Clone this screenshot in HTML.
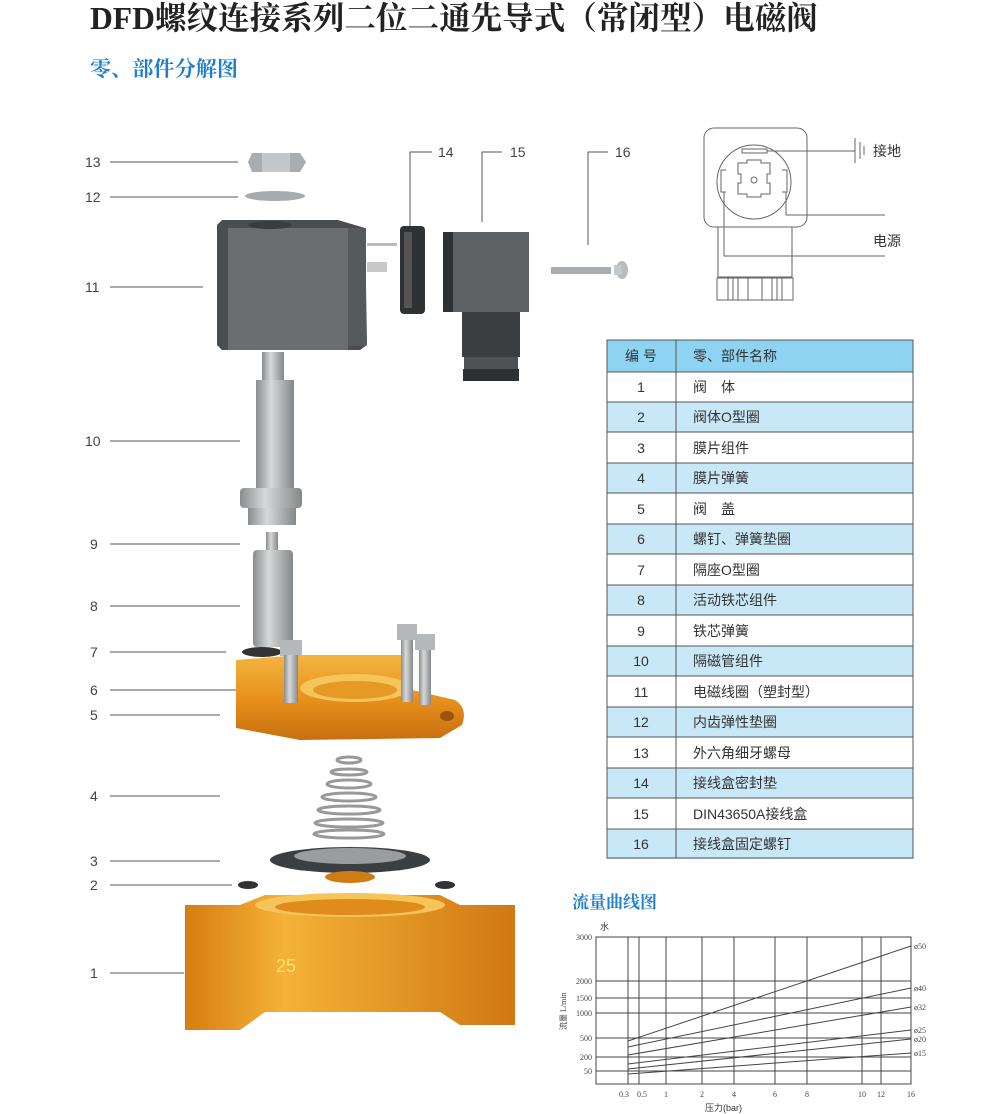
<!DOCTYPE html>
<html><head><meta charset="utf-8"><style>
body{margin:0;background:#fff;}
svg{display:block;}
</style></head><body>
<svg width="1006" height="1114" viewBox="0 0 1006 1114" xmlns="http://www.w3.org/2000/svg" font-family="Liberation Sans, Noto Sans CJK SC, sans-serif">
<defs>
<linearGradient id="gr" x1="0" x2="1"><stop offset="0" stop-color="#8a8d8f"/><stop offset="0.4" stop-color="#d6d8d9"/><stop offset="1" stop-color="#85888a"/></linearGradient>
<linearGradient id="or" x1="0" x2="0" y1="0" y2="1"><stop offset="0" stop-color="#f3b540"/><stop offset="0.5" stop-color="#e8921c"/><stop offset="1" stop-color="#c86f10"/></linearGradient>
<linearGradient id="or2" x1="0" x2="1"><stop offset="0" stop-color="#d67d12"/><stop offset="0.3" stop-color="#f4b238"/><stop offset="1" stop-color="#d07812"/></linearGradient>
</defs>
<text x="90" y="29" font-family="Liberation Serif, Noto Serif CJK SC, serif" font-size="32" font-weight="bold" fill="#222" textLength="728" lengthAdjust="spacingAndGlyphs">DFD螺纹连接系列二位二通先导式（常闭型）电磁阀</text>
<text x="90" y="76" font-family="Liberation Serif, Noto Serif CJK SC, serif" font-size="21" font-weight="bold" fill="#1f7fcc" textLength="148" lengthAdjust="spacingAndGlyphs">零、部件分解图</text>

<!-- left labels -->
<g font-size="14" fill="#444" stroke="#555" stroke-width="1">
<text x="85" y="167" stroke="none">13</text><line x1="110" y1="162" x2="238" y2="162"/>
<text x="85" y="202" stroke="none">12</text><line x1="110" y1="197" x2="238" y2="197"/>
<text x="85" y="292" stroke="none">11</text><line x1="110" y1="287" x2="203" y2="287"/>
<text x="85" y="446" stroke="none">10</text><line x1="110" y1="441" x2="240" y2="441"/>
<text x="90" y="549" stroke="none">9</text><line x1="110" y1="544" x2="240" y2="544"/>
<text x="90" y="611" stroke="none">8</text><line x1="110" y1="606" x2="240" y2="606"/>
<text x="90" y="657" stroke="none">7</text><line x1="110" y1="652" x2="226" y2="652"/>
<text x="90" y="695" stroke="none">6</text><line x1="110" y1="690" x2="272" y2="690"/>
<text x="90" y="720" stroke="none">5</text><line x1="110" y1="715" x2="220" y2="715"/>
<text x="90" y="801" stroke="none">4</text><line x1="110" y1="796" x2="220" y2="796"/>
<text x="90" y="866" stroke="none">3</text><line x1="110" y1="861" x2="220" y2="861"/>
<text x="90" y="890" stroke="none">2</text><line x1="110" y1="885" x2="232" y2="885"/>
<text x="90" y="978" stroke="none">1</text><line x1="110" y1="973" x2="184" y2="973"/>
<polyline points="410,245 410,152 432,152" fill="none"/><text x="438" y="157" stroke="none">14</text>
<polyline points="482,222 482,152 502,152" fill="none"/><text x="510" y="157" stroke="none">15</text>
<polyline points="588,245 588,152 608,152" fill="none"/><text x="615" y="157" stroke="none">16</text>
</g>

<!-- nut & washer -->
<polygon points="252,153 300,153 306,162 300,172 252,172 248,162" fill="#a9adb0"/>
<rect x="262" y="153" width="28" height="19" fill="#c4c7c9"/>
<ellipse cx="275" cy="196" rx="30" ry="5" fill="#a8acaf"/>
<!-- coil -->
<polygon points="217,225 222,220 338,220 365,228 367,345 360,350 222,350 217,345" fill="#4a4e50"/>
<rect x="228" y="228" width="120" height="122" fill="#6a6e70"/>
<rect x="348" y="228" width="18" height="118" fill="#555a5c"/>
<ellipse cx="270" cy="225" rx="22" ry="4" fill="#3a3d3f"/>
<rect x="367" y="243" width="30" height="3" fill="#bbb"/>
<rect x="367" y="262" width="20" height="10" fill="#c8c8c8"/>
<!-- gasket 14 -->
<rect x="400" y="226" width="25" height="88" rx="4" fill="#2f3234"/>
<rect x="404" y="232" width="8" height="76" fill="#555"/>
<!-- connector 15 -->
<rect x="443" y="232" width="86" height="80" fill="#5e6264"/>
<rect x="443" y="232" width="10" height="80" fill="#2e3133"/>
<rect x="462" y="312" width="58" height="45" fill="#3c3f41"/>
<rect x="464" y="357" width="54" height="12" fill="#4e5254"/>
<rect x="463" y="369" width="56" height="12" fill="#2e3133"/>
<!-- screw 16 -->
<rect x="551" y="267" width="60" height="7" fill="#a9adb0"/>
<ellipse cx="622" cy="270" rx="6" ry="9" fill="#b9bcbf"/>
<rect x="614" y="265" width="8" height="10" fill="#c5c8ca"/>
<!-- tube 10 -->
<rect x="262" y="352" width="22" height="30" fill="url(#gr)"/>
<rect x="256" y="380" width="38" height="110" fill="url(#gr)"/>
<rect x="240" y="488" width="62" height="20" rx="4" fill="url(#gr)"/>
<rect x="248" y="508" width="48" height="17" fill="url(#gr)"/>
<!-- spring 9 & core 8 -->
<rect x="266" y="532" width="12" height="20" fill="url(#gr)"/>
<rect x="253" y="550" width="40" height="97" rx="4" fill="url(#gr)"/>
<ellipse cx="262" cy="652" rx="20" ry="5" fill="#333"/>
<!-- bonnet 5 -->
<path d="M236,660 L300,655 L405,655 L412,690 L455,700 Q468,708 462,725 L440,738 L300,740 L236,728 Z" fill="url(#or)"/>
<ellipse cx="355" cy="688" rx="55" ry="14" fill="#f6c55a"/>
<ellipse cx="355" cy="690" rx="42" ry="9" fill="#e69a26"/>
<ellipse cx="447" cy="716" rx="7" ry="5" fill="#9a5410"/>
<!-- screws 6 -->
<rect x="280" y="640" width="22" height="16" fill="#b6b9bc"/><rect x="284" y="655" width="14" height="48" fill="url(#gr)"/>
<rect x="397" y="624" width="20" height="16" fill="#b6b9bc"/><rect x="401" y="640" width="12" height="62" fill="url(#gr)"/>
<rect x="415" y="634" width="20" height="16" fill="#b6b9bc"/><rect x="419" y="650" width="12" height="55" fill="url(#gr)"/>
<!-- spring 4 -->
<g stroke="#999" stroke-width="3" fill="none">
<ellipse cx="349" cy="760" rx="12" ry="3"/><ellipse cx="349" cy="772" rx="18" ry="3"/><ellipse cx="349" cy="784" rx="22" ry="4"/><ellipse cx="349" cy="797" rx="27" ry="4"/><ellipse cx="349" cy="810" rx="31" ry="4"/><ellipse cx="349" cy="823" rx="34" ry="4"/><ellipse cx="349" cy="834" rx="35" ry="4"/>
</g>
<!-- diaphragm 3 -->
<ellipse cx="350" cy="860" rx="80" ry="13" fill="#3c3f41"/>
<ellipse cx="350" cy="856" rx="56" ry="8" fill="#9a9da0"/>
<ellipse cx="350" cy="877" rx="25" ry="6" fill="#d07c15"/>
<ellipse cx="248" cy="885" rx="10" ry="4" fill="#333"/><ellipse cx="445" cy="885" rx="10" ry="4" fill="#333"/>
<!-- body 1 -->
<path d="M185,905 L240,905 L265,895 L440,895 L460,905 L515,905 L515,1025 L460,1025 L440,1012 L265,1012 L240,1030 L185,1030 Z" fill="url(#or2)"/>
<ellipse cx="350" cy="905" rx="95" ry="12" fill="#f7c45a"/>
<ellipse cx="350" cy="907" rx="75" ry="8" fill="#e08c1c"/>
<text x="276" y="972" font-size="18" fill="#f9e26a">25</text>

<!-- wiring diagram -->
<g stroke="#666" stroke-width="1" fill="none">
<rect x="704" y="128" width="103" height="99" rx="10"/>
<circle cx="754" cy="182" r="37"/>
<rect x="718" y="227" width="74" height="50"/>
<rect x="717" y="278" width="76" height="22"/>
<line x1="728" y1="278" x2="728" y2="300"/><line x1="733" y1="278" x2="733" y2="300"/><line x1="738" y1="278" x2="738" y2="300"/><line x1="748" y1="278" x2="748" y2="300"/><line x1="762" y1="278" x2="762" y2="300"/><line x1="772" y1="278" x2="772" y2="300"/><line x1="777" y1="278" x2="777" y2="300"/><line x1="782" y1="278" x2="782" y2="300"/>
<rect x="742" y="149" width="25" height="4"/>
<path d="M738,163 h9 v-3 h14 v3 h9 v11 h-3 v9 h3 v11 h-9 v3 h-14 v-3 h-9 v-11 h3 v-9 h-3 z"/>
<circle cx="754" cy="180" r="3"/>
<path d="M726,170 h-5 v22 h5"/><path d="M782,170 h5 v22 h-5"/>
<line x1="767" y1="151" x2="855" y2="151"/>
<line x1="855" y1="138" x2="855" y2="163"/><line x1="860" y1="142" x2="860" y2="159"/><line x1="864" y1="146" x2="864" y2="155"/>
<polyline points="786,192 786,215 885,215"/>
<polyline points="724,192 724,256 885,256"/>
</g>
<text x="873" y="156" font-size="14" fill="#333">接地</text>
<text x="873" y="246" font-size="14" fill="#333">电源</text>

<!-- table -->
<g font-size="14" fill="#333">
<rect x="607" y="340" width="306" height="32" fill="#8fd3f2"/>
<rect x="607" y="402" width="306" height="30" fill="#c9e8f7"/>
<rect x="607" y="463" width="306" height="30" fill="#c9e8f7"/>
<rect x="607" y="524" width="306" height="30" fill="#c9e8f7"/>
<rect x="607" y="585" width="306" height="30" fill="#c9e8f7"/>
<rect x="607" y="646" width="306" height="30" fill="#c9e8f7"/>
<rect x="607" y="707" width="306" height="30" fill="#c9e8f7"/>
<rect x="607" y="768" width="306" height="30" fill="#c9e8f7"/>
<rect x="607" y="829" width="306" height="30" fill="#c9e8f7"/>
<g stroke="#555" stroke-width="1">
<rect x="607" y="340" width="306" height="518" fill="none"/>
<line x1="676" y1="340" x2="676" y2="858"/>
<line x1="607" y1="372" x2="913" y2="372"/><line x1="607" y1="402" x2="913" y2="402"/><line x1="607" y1="432" x2="913" y2="432"/><line x1="607" y1="463" x2="913" y2="463"/><line x1="607" y1="493" x2="913" y2="493"/><line x1="607" y1="524" x2="913" y2="524"/><line x1="607" y1="554" x2="913" y2="554"/><line x1="607" y1="585" x2="913" y2="585"/><line x1="607" y1="615" x2="913" y2="615"/><line x1="607" y1="646" x2="913" y2="646"/><line x1="607" y1="676" x2="913" y2="676"/><line x1="607" y1="707" x2="913" y2="707"/><line x1="607" y1="737" x2="913" y2="737"/><line x1="607" y1="768" x2="913" y2="768"/><line x1="607" y1="798" x2="913" y2="798"/><line x1="607" y1="829" x2="913" y2="829"/>
</g>
<g text-anchor="middle">
<text x="641" y="361">编  号</text>
<text x="641" y="392">1</text><text x="641" y="422">2</text><text x="641" y="453">3</text><text x="641" y="483">4</text><text x="641" y="514">5</text><text x="641" y="544">6</text><text x="641" y="575">7</text><text x="641" y="605">8</text><text x="641" y="636">9</text><text x="641" y="666">10</text><text x="641" y="697">11</text><text x="641" y="727">12</text><text x="641" y="758">13</text><text x="641" y="788">14</text><text x="641" y="819">15</text><text x="641" y="849">16</text>
</g>
<text x="693" y="361">零、部件名称</text>
<text x="693" y="392">阀　体</text><text x="693" y="422">阀体O型圈</text><text x="693" y="453">膜片组件</text><text x="693" y="483">膜片弹簧</text><text x="693" y="514">阀　盖</text><text x="693" y="544">螺钉、弹簧垫圈</text><text x="693" y="575">隔座O型圈</text><text x="693" y="605">活动铁芯组件</text><text x="693" y="636">铁芯弹簧</text><text x="693" y="666">隔磁管组件</text><text x="693" y="697">电磁线圈（塑封型）</text><text x="693" y="727">内齿弹性垫圈</text><text x="693" y="758">外六角细牙螺母</text><text x="693" y="788">接线盒密封垫</text><text x="693" y="819">DIN43650A接线盒</text><text x="693" y="849">接线盒固定螺钉</text>
</g>

<!-- chart -->
<text x="572" y="908" font-family="Liberation Serif, Noto Serif CJK SC, serif" font-size="17" font-weight="bold" fill="#1f7fcc">流量曲线图</text>
<text x="600" y="930" font-size="9" fill="#333">水</text>
<g stroke="#444" stroke-width="1" fill="none">
<rect x="596" y="937" width="315" height="147"/>
<line x1="628" y1="937" x2="628" y2="1084"/><line x1="639" y1="937" x2="639" y2="1084"/><line x1="666" y1="937" x2="666" y2="1084"/><line x1="702" y1="937" x2="702" y2="1084"/><line x1="734" y1="937" x2="734" y2="1084"/><line x1="775" y1="937" x2="775" y2="1084"/><line x1="807" y1="937" x2="807" y2="1084"/><line x1="862" y1="937" x2="862" y2="1084"/><line x1="881" y1="937" x2="881" y2="1084"/>
<line x1="596" y1="981" x2="911" y2="981"/><line x1="596" y1="998" x2="911" y2="998"/><line x1="596" y1="1013" x2="911" y2="1013"/><line x1="596" y1="1038" x2="911" y2="1038"/><line x1="596" y1="1057" x2="911" y2="1057"/><line x1="596" y1="1071" x2="911" y2="1071"/>
<line x1="628" y1="1041" x2="911" y2="946"/><line x1="628" y1="1047" x2="911" y2="988"/><line x1="628" y1="1055" x2="911" y2="1007"/><line x1="628" y1="1064" x2="911" y2="1030"/><line x1="628" y1="1069" x2="911" y2="1039"/><line x1="628" y1="1074" x2="911" y2="1053"/>
</g>
<g font-family="Liberation Serif, serif" font-size="8" fill="#444">
<g text-anchor="end"><text x="592" y="940">3000</text><text x="592" y="984">2000</text><text x="592" y="1001">1500</text><text x="592" y="1016">1000</text><text x="592" y="1041">500</text><text x="592" y="1060">200</text><text x="592" y="1074">50</text></g>
<text x="914" y="949">ø50</text><text x="914" y="991">ø40</text><text x="914" y="1010">ø32</text><text x="914" y="1033">ø25</text><text x="914" y="1042">ø20</text><text x="914" y="1056">ø15</text>
<g text-anchor="middle"><text x="624" y="1097">0.3</text><text x="642" y="1097">0.5</text><text x="666" y="1097">1</text><text x="702" y="1097">2</text><text x="734" y="1097">4</text><text x="775" y="1097">6</text><text x="807" y="1097">8</text><text x="862" y="1097">10</text><text x="881" y="1097">12</text><text x="911" y="1097">16</text></g>
<text x="566" y="1030" transform="rotate(-90 566 1030)" font-size="8">流量 L/min</text>
</g>
<text x="705" y="1111" font-size="9" fill="#333">压力(bar)</text>
</svg>
</body></html>
